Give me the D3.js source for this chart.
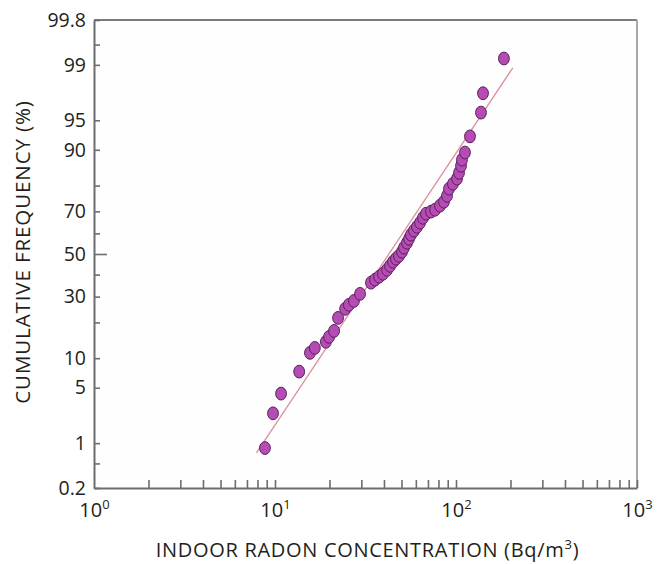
<!DOCTYPE html>
<html>
<head>
<meta charset="utf-8">
<script src="https://cdn.jsdelivr.net/npm/d3@7"></script>
<style>
  html, body { margin: 0; padding: 0; background: #fff; }
  svg text { font-family: "Open Sans", "Noto Sans", sans-serif; fill: #231f20; }
</style>
</head>
<body>
<div id="chart"></div>
<script>
// ── data
// indoor radon concentration (Bq/m3) and cumulative frequency (%)
const concentration = [
  8.8, 9.75, 10.8, 13.6, 15.6, 16.6, 19.1, 19.9, 21.2, 22.3,
  24.4, 25.6, 27.3, 29.5, 33.9, 35.7, 37.6, 39.5, 41.6, 43.2,
  44.9, 46.6, 48.4, 50.3, 51.6, 53.6, 55.0, 56.4, 58.6, 60.9,
  63.3, 65.7, 68.3, 72.8, 76.6, 81.6, 85.8, 89.2, 91.5, 96.2,
  101.3, 103.9, 106.6, 107.9, 112.1, 119.5, 137.4, 141.0, 184
];
const cumFreq = [
  0.85, 2.5, 4.3, 7.4, 11.2, 12.4, 14.0, 15.4, 17.2, 21.6,
  25.0, 26.6, 28.2, 31.2, 36.2, 37.6, 39.0, 40.4, 42.3, 44.2,
  46.2, 47.7, 49.1, 51.1, 53.1, 55.5, 57.4, 59.4, 61.3, 63.1,
  65.0, 67.2, 69.0, 69.9, 70.7, 72.4, 74.0, 76.3, 78.9, 80.6,
  82.3, 84.1, 86.1, 87.7, 89.4, 92.6, 95.9, 97.6, 99.19
];
// fitted log-normal line (end points)
const fitConc = [7.9, 206];
const fitFreq = [0.72, 98.9];

// axis ticks
const yTickValues = [0.2, 1, 5, 10, 30, 50, 70, 90, 95, 99, 99.8];
const yTickLabels = ['0.2', '1', '5', '10', '30', '50', '70', '90', '95', '99', '99.8'];
const yMinorTicks = [0.5, 20, 40, 60, 80, 99.5];
const xMajorTicks = [1, 10, 100, 1000];
const xTickExponents = ['0', '1', '2', '3'];
const xMinorSteps = [2, 3, 4, 5, 6, 7, 8, 9];

// ── layout
const W = 670, H = 564;
const margin = { top: 20, right: 33, bottom: 76, left: 94 };
const width  = W - margin.left - margin.right;
const height = H - margin.top  - margin.bottom;

// inverse normal CDF (Acklam) — used for the probability axis
function probit(p) {
  const a = [-3.969683028665376e+01, 2.209460984245205e+02, -2.759285104469687e+02,
             1.383577518672690e+02, -3.066479806614716e+01, 2.506628277459239e+00];
  const b = [-5.447609879822406e+01, 1.615858368580409e+02, -1.556989798598866e+02,
             6.680131188771972e+01, -1.328068155288572e+01];
  const c = [-7.784894002430293e-03, -3.223964580411365e-01, -2.400758277161838e+00,
             -2.549732539343734e+00, 4.374664141464968e+00, 2.938163982698783e+00];
  const d = [7.784695709041462e-03, 3.224671290700398e-01, 2.445134137142996e+00,
             3.754408661907416e+00];
  const pl = 0.02425, ph = 1 - pl;
  let q, r;
  if (p < pl) {
    q = Math.sqrt(-2 * Math.log(p));
    return (((((c[0]*q+c[1])*q+c[2])*q+c[3])*q+c[4])*q+c[5]) /
           ((((d[0]*q+d[1])*q+d[2])*q+d[3])*q+1);
  }
  if (p <= ph) {
    q = p - 0.5; r = q * q;
    return (((((a[0]*r+a[1])*r+a[2])*r+a[3])*r+a[4])*r+a[5])*q /
           (((((b[0]*r+b[1])*r+b[2])*r+b[3])*r+b[4])*r+1);
  }
  q = Math.sqrt(-2 * Math.log(1 - p));
  return -(((((c[0]*q+c[1])*q+c[2])*q+c[3])*q+c[4])*q+c[5]) /
          ((((d[0]*q+d[1])*q+d[2])*q+d[3])*q+1);
}
const z = pct => probit(pct / 100);

// ── scales
const xScale = d3.scaleLog().domain([1, 1000]).range([0, width]);
const yScale = d3.scaleLinear().domain([z(0.2), z(99.8)]).range([height, 0]);

const svg = d3.select('#chart')
  .append('svg')
    .attr('width', W)
    .attr('height', H);

const g = svg.append('g')
  .attr('transform', `translate(${margin.left},${margin.top})`);

// frame
g.append('rect')
  .attr('x', 0).attr('y', 0)
  .attr('width', width).attr('height', height)
  .attr('fill', '#fefefe')
  .attr('stroke', 'none');
g.append('line').attr('x1', 0).attr('x2', width).attr('y1', 0).attr('y2', 0)
  .attr('stroke', '#7d7d7d').attr('stroke-width', 2);
g.append('line').attr('x1', width).attr('x2', width).attr('y1', 0).attr('y2', height)
  .attr('stroke', '#a9a9a9').attr('stroke-width', 2);

// ── Y axis (probability)
const yAxisG = g.append('g')
  .call(d3.axisLeft(yScale)
    .tickValues(yTickValues.map(z))
    .tickFormat((d, i) => yTickLabels[i])
    .tickSizeInner(-6)
    .tickSizeOuter(0)
    .tickPadding(8));
yAxisG.selectAll('.tick text').attr('font-size', '19.5px').attr('fill', '#231f20');
yAxisG.selectAll('.tick line')
  .attr('stroke', '#6d6d6d').attr('stroke-width', 1.6)
  .attr('x2', (d, i) => yTickLabels[i] === '50' ? 13 : 6);
yAxisG.select('.domain').attr('stroke', '#6d6d6d').attr('stroke-width', 2);

g.append('g')
  .call(d3.axisLeft(yScale)
    .tickValues(yMinorTicks.map(z))
    .tickFormat('')
    .tickSizeInner(-6)
    .tickSizeOuter(0))
  .call(s => s.select('.domain').remove())
  .call(s => s.selectAll('.tick line').attr('stroke', '#6d6d6d').attr('stroke-width', 1.6));

// ── X axis (log)
const xMinor = [];
xMajorTicks.slice(0, -1).forEach(dec => xMinorSteps.forEach(m => xMinor.push(dec * m)));

g.append('g')
  .attr('transform', `translate(0,${height})`)
  .call(d3.axisBottom(xScale)
    .tickValues(xMinor.concat(xMajorTicks.slice(1)))
    .tickFormat('')
    .tickSizeInner(-8)
    .tickSizeOuter(0))
  .call(s => s.select('.domain').remove())
  .call(s => s.selectAll('.tick line').attr('stroke', '#6d6d6d').attr('stroke-width', 1.6));

const xAxisG = g.append('g')
  .attr('transform', `translate(0,${height})`)
  .call(d3.axisBottom(xScale)
    .tickValues(xMajorTicks)
    .tickFormat('')
    .tickSize(0));
xAxisG.select('.domain').attr('stroke', '#6d6d6d').attr('stroke-width', 2);
xAxisG.selectAll('.tick').each(function (d, i) {
  const t = d3.select(this).select('text')
    .attr('y', 29).attr('dy', 0)
    .attr('font-size', '20px')
    .attr('text-anchor', 'middle')
    .attr('fill', '#231f20');
  t.append('tspan').text('10');
  t.append('tspan').attr('font-size', '13px').attr('dy', -8).text(xTickExponents[i]);
});

// ── axis titles
g.append('text')
  .attr('x', width / 2 + 2)
  .attr('y', height + 69)
  .attr('text-anchor', 'middle')
  .attr('font-size', '20px')
  .attr('letter-spacing', '0.7px')
  .call(t => {
    t.append('tspan').text('INDOOR RADON CONCENTRATION (Bq/m');
    t.append('tspan').attr('font-size', '13px').attr('dy', -8).text('3');
    t.append('tspan').attr('dy', 8).text(')');
  });

g.append('text')
  .attr('transform', 'rotate(-90)')
  .attr('x', -height / 2 + 2)
  .attr('y', -64)
  .attr('text-anchor', 'middle')
  .attr('font-size', '20.5px')
  .attr('letter-spacing', '0.9px')
  .text('CUMULATIVE FREQUENCY (%)');

// ── fitted line
const fitData = fitConc.map((c, i) => ({ c, p: fitFreq[i] }));
g.append('path')
  .datum(fitData)
  .attr('fill', 'none')
  .attr('stroke', '#dc8fa0')
  .attr('stroke-width', 1.3)
  .attr('d', d3.line().x(d => xScale(d.c)).y(d => yScale(z(d.p))));

// ── points
const points = concentration.map((c, i) => ({ c, p: cumFreq[i] }));
g.append('g')
  .selectAll('ellipse')
  .data(points)
  .enter()
  .append('ellipse')
    .attr('cx', d => xScale(d.c))
    .attr('cy', d => yScale(z(d.p)))
    .attr('rx', 5.4)
    .attr('ry', 6.4)
    .attr('fill', '#b44cb4')
    .attr('stroke', '#5c1f5e')
    .attr('stroke-width', 1);
</script>
</body>
</html>
